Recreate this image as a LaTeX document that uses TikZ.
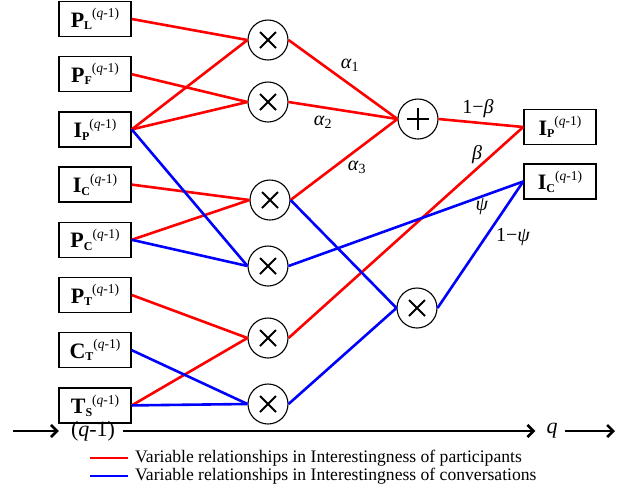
\documentclass[tikz,border=0pt]{standalone}
\usepackage{fontspec}
\setmainfont{Liberation Serif}
\usetikzlibrary{arrows.meta,positioning}

% variable box label: bold letter, bold subscript, (q-1) superscript
\newcommand{\varlab}[2]{\textbf{#1}\raisebox{-2.5pt}{\fontsize{12}{12}\selectfont\textbf{#2}}\raisebox{9.5pt}{\fontsize{13.5}{13.5}\selectfont(\textit{q}-1)}}

\begin{document}
\begin{tikzpicture}[x=1pt, y=-1pt, node distance=18.7pt,
  >={Straight Barb[length=6pt,width=12pt]},
  var/.style={draw, line width=1.5pt, minimum width=72pt, minimum height=35pt,
    inner sep=1pt, font=\fontsize{22}{24}\selectfont},
  mult/.style={draw, circle, line width=1.1pt, minimum size=40pt, inner sep=0pt,
    path picture={\draw[line width=1.9pt]
      ([shift={(-8pt,-8pt)}]path picture bounding box.center) -- ([shift={(8pt,8pt)}]path picture bounding box.center)
      ([shift={(-8pt,8pt)}]path picture bounding box.center) -- ([shift={(8pt,-8pt)}]path picture bounding box.center);}},
  add/.style={draw, circle, line width=1.1pt, minimum size=40pt, inner sep=0pt,
    path picture={\draw[line width=1.9pt]
      ([xshift=-11pt]path picture bounding box.center) -- ([xshift=11pt]path picture bounding box.center)
      ([yshift=-11pt]path picture bounding box.center) -- ([yshift=11pt]path picture bounding box.center);}},
  rel/.style={red, line width=2.6pt},
  con/.style={blue, line width=2.6pt},
  wt/.style={font=\fontsize{20}{22}\selectfont, inner sep=0pt},
  axis/.style={->, line width=2.6pt, shorten >=4pt},
  axlbl/.style={font=\fontsize{22}{24}\selectfont, inner ysep=0pt},
  legtxt/.style={font=\fontsize{17.6}{19}\selectfont, anchor=west, inner xsep=7pt, inner ysep=0pt}
]
\useasboundingbox (0,0) rectangle (633,491);

% Column 1: variables at step q-1
\node[var] (pl) at (95,19) {\varlab{P}{L}};
\node[var, below=of pl] (pf) {\varlab{P}{F}};
\node[var, below=of pf] (ip) {\varlab{I}{P}};
\node[var, below=of ip] (ic) {\varlab{I}{C}};
\node[var, below=of ic] (pc) {\varlab{P}{C}};
\node[var, below=of pc] (pt) {\varlab{P}{T}};
\node[var, below=of pt] (ct) {\varlab{C}{T}};
\node[var, below=of ct] (ts) {\varlab{T}{S}};

% Column 2: products
\node[mult] (m1) at (268,40) {};
\node[mult] (m2) at (268,102) {};
\node[mult] (m3) at (270,200) {};
\node[mult] (m4) at (268,266) {};
\node[mult] (m5) at (268,338) {};
\node[mult] (m6) at (268,404) {};

% Column 3: sum and product
\node[add] (sum) at (418,119) {};
\node[mult] (m7) at (417,308) {};

% Column 4: updated variables
\node[var] (ipn) at (560,127) {\varlab{I}{P}};
\node[var, below=18pt of ipn] (icn) {\varlab{I}{C}};

% Participants (red)
\draw[rel] (pl.east) -- (m1.west);
\draw[rel] (pf.east) -- (m2.west);
\draw[rel] (ip.east) -- (m1.west);
\draw[rel] (ip.east) -- (m2.west);
\draw[rel] (ic.east) -- (m3.west);
\draw[rel] (pc.east) -- (m3.west);
\draw[rel] (pt.east) -- (m5.west);
\draw[rel] (ts.east) -- (m5.west);
\draw[rel] (m1.east) -- (sum.west);
\draw[rel] (m2.east) -- (sum.west);
\draw[rel] (m3.east) -- (sum.west);
\draw[rel] (sum.east) -- (ipn.west);
\draw[rel] (m5.east) -- (ipn.west);

% Conversations (blue)
\draw[con] (ip.east) -- (m4.west);
\draw[con] (pc.east) -- (m4.west);
\draw[con] (ct.east) -- (m6.west);
\draw[con] (ts.east) -- (m6.west);
\draw[con] (m3.east) -- (m7.west);
\draw[con] (m6.east) -- (m7.west);
\draw[con] (m4.east) -- (icn.west);
\draw[con] (m7.east) -- (icn.west);

% Weights
\node[wt] (w1) at (350,65) {\textit{α}\textsubscript{1}};
\node[wt] (w2) at (323,122) {\textit{α}\textsubscript{2}};
\node[wt] (w3) at (357,167) {\textit{α}\textsubscript{3}};
\node[wt] (wb1) at (478,109) {1−\textit{β}};
\node[wt] (wb) at (477,155) {\textit{β}};
\node[wt] (wp) at (482,207) {\textit{ψ}};
\node[wt] (wp1) at (513,237) {1−\textit{ψ}};

% Time axis
\coordinate (tl) at (13,431);
\node[axlbl, inner xsep=8pt] (qa) at (93,431) {(\textit{q}-1)};
\node[axlbl, inner xsep=7pt] (qb) at (552,431) {\textit{q}};
\coordinate (tr) at (619,431);
\draw[axis] (tl) -- (qa);
\draw[axis] (qa) -- (qb);
\draw[axis] (qb) -- (tr);

% Legend
\coordinate (lr) at (90,458);
\coordinate (lb) at (90,476);
\node[legtxt] (legp) at (128,458) {Variable relationships in Interestingness of participants};
\node[legtxt] (legc) at (128,476) {Variable relationships in Interestingness of conversations};
\draw[rel] (lr) -- (legp.west);
\draw[con] (lb) -- (legc.west);
\end{tikzpicture}
\end{document}
